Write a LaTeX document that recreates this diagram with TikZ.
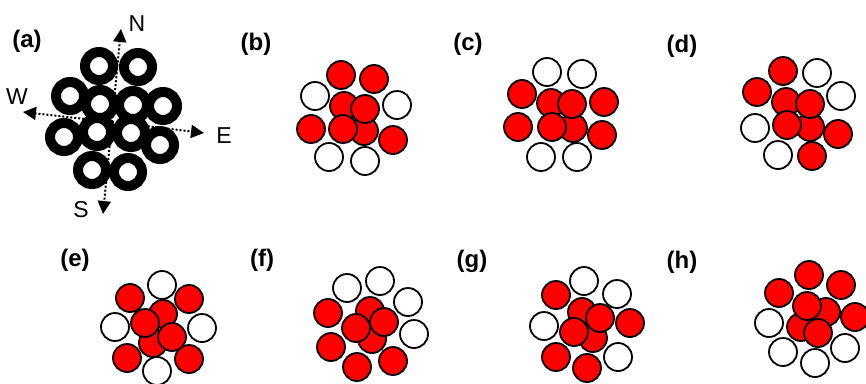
\documentclass[tikz,border=0pt]{standalone}
\usepackage{fontspec}
\setmainfont{Liberation Sans}
\usetikzlibrary{arrows.meta}
\tikzset{
    dotarrow/.style={line width=2pt, dash pattern=on 2pt off 2pt, -{Triangle[length=13pt, width=13pt]}},
    ring/.style={draw, circle, line width=10pt, minimum size=28pt, inner sep=0pt, fill=white},
    ball/.style={draw, circle, line width=1.8pt, minimum size=28pt, inner sep=0pt, fill=white},
    plabel/.style={font=\fontsize{24}{24}\selectfont\bfseries, inner sep=0pt},
    heading/.style={font=\fontsize{23}{23}\selectfont, inner sep=0pt}
}

\begin{document}
\begin{tikzpicture}[x=1pt, y=-1pt]
    \useasboundingbox (0,0) rectangle (866,383);
    % (a)
    \coordinate (o) at (112,122);
    \coordinate (tN) at (121,29);
    \coordinate (tS) at (103,214);
    \coordinate (tW) at (23,112);
    \coordinate (tE) at (204,133);
    \draw [dotarrow] (o) -- (tN);
    \draw [dotarrow] (o) -- (tS);
    \draw [dotarrow] (o) -- (tW);
    \draw [dotarrow] (o) -- (tE);
    \foreach \x/\y [count=\i] in {99/66, 138/67, 70/96, 100/104, 133/105, 163/106,
        64/137, 97/132, 131/133, 160/145, 92/170, 128/172}
        \node [ring] (a\i) at (\x,\y) {};
    \node [heading] (lN) at (137,24) {N};
    \node [heading] (lS) at (81,210) {S};
    \node [heading] (lW) at (17,97) {W};
    \node [heading] (lE) at (224,136) {E};
    % (b)-(h)
    \foreach \x/\y/\f [count=\i] in {341/75/red, 374/79/red, 315/96/white, 397/105/white,
        311/129/red, 393/140/red, 329/157/white, 365/161/white,
        344/106/red, 364/131/red, 365/109/red, 343/129/red}
        \node [ball, fill=\f] (b\i) at (\x,\y) {};
    \foreach \x/\y/\f [count=\i] in {547/72/white, 582/74/white, 522/94/red, 604/102/red,
        518/127/red, 602/135/red, 541/157/white, 577/157/white,
        551/103/red, 573/128/red, 572/104/red, 552/127/red}
        \node [ball, fill=\f] (c\i) at (\x,\y) {};
    \foreach \x/\y/\f [count=\i] in {783/71/red, 817/73/white, 757/92/red, 841/96/white,
        755/128/white, 838/134/red, 778/155/white, 812/156/red,
        786/102/red, 810/127/red, 810/104/red, 787/125/red}
        \node [ball, fill=\f] (d\i) at (\x,\y) {};
    \foreach \x/\y/\f [count=\i] in {162/285/white, 130/298/red, 189/299/red, 115/327/white,
        202/328/white, 127/358/red, 189/359/red, 157/371/white,
        163/314/red, 153/343/red, 145/323/red, 172/337/red}
        \node [ball, fill=\f] (e\i) at (\x,\y) {};
    \foreach \x/\y/\f [count=\i] in {347/288/white, 380/281/white, 408/302/white, 328/313/red,
        414/334/white, 331/347/red, 357/367/red, 393/361/red,
        370/311/red, 372/339/red, 356/328/red, 384/322/red}
        \node [ball, fill=\f] (f\i) at (\x,\y) {};
    \foreach \x/\y/\f [count=\i] in {584/281/white, 556/295/red, 617/294/white, 544/326/white,
        630/323/red, 556/357/red, 618/357/white, 587/368/red,
        582/312/red, 593/338/red, 600/318/red, 574/332/red}
        \node [ball, fill=\f] (g\i) at (\x,\y) {};
    \foreach \x/\y/\f [count=\i] in {809/275/red, 779/293/red, 841/285/red, 769/323/white,
        855/317/red, 783/352/white, 815/363/white, 845/348/white,
        826/312/red, 801/327/red, 807/306/red, 818/333/red}
        \node [ball, fill=\f] (h\i) at (\x,\y) {};
    % panel letters
    \node [plabel] (pa) at (27,41) {(a)};
    \node [plabel] (pb) at (256,44) {(b)};
    \node [plabel] (pc) at (468,44) {(c)};
    \node [plabel] (pd) at (682,46) {(d)};
    \node [plabel] (pe) at (75,260) {(e)};
    \node [plabel] (pf) at (262,260) {(f)};
    \node [plabel] (pg) at (472,261) {(g)};
    \node [plabel] (ph) at (682,262) {(h)};
\end{tikzpicture}
\end{document}
